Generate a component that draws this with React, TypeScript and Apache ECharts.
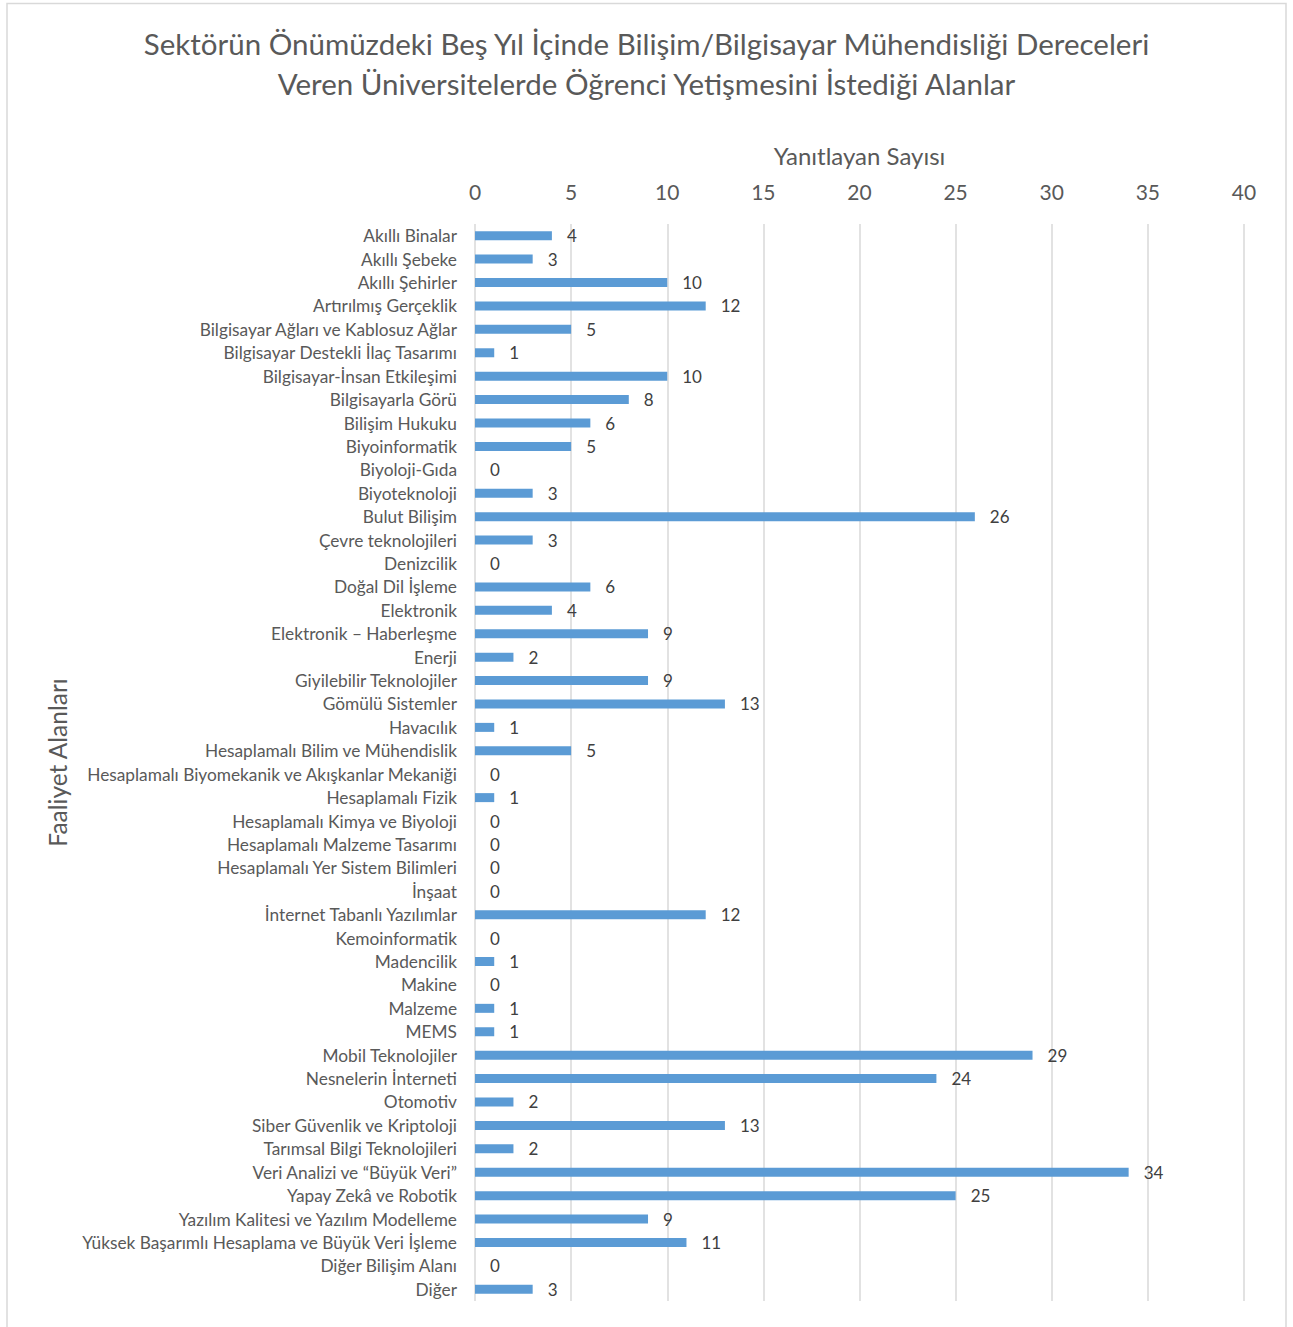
import React, { useEffect, useRef } from "react";
import * as echarts from "echarts";

const categories = [
  "Akıllı Binalar",
  "Akıllı Şebeke",
  "Akıllı Şehirler",
  "Artırılmış Gerçeklik",
  "Bilgisayar Ağları ve Kablosuz Ağlar",
  "Bilgisayar Destekli İlaç Tasarımı",
  "Bilgisayar-İnsan Etkileşimi",
  "Bilgisayarla Görü",
  "Bilişim Hukuku",
  "Biyoinformatik",
  "Biyoloji-Gıda",
  "Biyoteknoloji",
  "Bulut Bilişim",
  "Çevre teknolojileri",
  "Denizcilik",
  "Doğal Dil İşleme",
  "Elektronik",
  "Elektronik – Haberleşme",
  "Enerji",
  "Giyilebilir Teknolojiler",
  "Gömülü Sistemler",
  "Havacılık",
  "Hesaplamalı Bilim ve Mühendislik",
  "Hesaplamalı Biyomekanik ve Akışkanlar Mekaniği",
  "Hesaplamalı Fizik",
  "Hesaplamalı Kimya ve Biyoloji",
  "Hesaplamalı Malzeme Tasarımı",
  "Hesaplamalı Yer Sistem Bilimleri",
  "İnşaat",
  "İnternet Tabanlı Yazılımlar",
  "Kemoinformatik",
  "Madencilik",
  "Makine",
  "Malzeme",
  "MEMS",
  "Mobil Teknolojiler",
  "Nesnelerin İnterneti",
  "Otomotiv",
  "Siber Güvenlik ve Kriptoloji",
  "Tarımsal Bilgi Teknolojileri",
  "Veri Analizi ve “Büyük Veri”",
  "Yapay Zekâ ve Robotik",
  "Yazılım Kalitesi ve Yazılım Modelleme",
  "Yüksek Başarımlı Hesaplama ve Büyük Veri İşleme",
  "Diğer Bilişim Alanı",
  "Diğer",
];

const values = [
  4, 3, 10, 12, 5, 1, 10, 8, 6, 5, 0, 3, 26, 3, 0, 6, 4, 9, 2, 9, 13, 1, 5, 0, 1,
  0, 0, 0, 0, 12, 0, 1, 0, 1, 1, 29, 24, 2, 13, 2, 34, 25, 9, 11, 0, 3,
];

const titleLines = [
  "Sektörün Önümüzdeki Beş Yıl İçinde Bilişim/Bilgisayar Mühendisliği Dereceleri",
  "Veren Üniversitelerde Öğrenci Yetişmesini İstediği Alanlar",
];
const xAxisName = "Yanıtlayan Sayısı";
const yAxisName = "Faaliyet Alanları";
const xMin = 0;
const xMax = 40;
const xInterval = 5;

const FONT = "Lato, 'Open Sans', sans-serif";

export default function App() {
  const ref = useRef<HTMLDivElement>(null);
  useEffect(() => {
    if (!ref.current) return;
    const chart = echarts.init(ref.current, undefined, { renderer: "svg" });
    chart.setOption({
      animation: false,
      backgroundColor: "#ffffff",
      textStyle: { fontFamily: FONT },
      title: {
        text: titleLines.join("\n"),
        left: "center",
        top: 18,
        textStyle: {
          fontFamily: FONT,
          fontSize: 29.5,
          fontWeight: "normal",
          color: "#595959",
          lineHeight: 40,
        },
      },
      graphic: [
        {
          type: "rect",
          shape: { x: 7, y: 3.5, width: 1279, height: 1340 },
          style: { fill: "none", stroke: "#d9d9d9", lineWidth: 1.5 },
          silent: true,
        },
      ],
      grid: {
        left: 475,
        right: 49,
        top: 224,
        height: 1077,
        containLabel: false,
      },
      xAxis: {
        type: "value",
        position: "top",
        min: xMin,
        max: xMax,
        interval: xInterval,
        name: xAxisName,
        nameLocation: "middle",
        nameGap: 57,
        nameTextStyle: { fontSize: 24, color: "#595959", fontFamily: FONT },
        axisLine: { show: false },
        axisTick: { show: false },
        axisLabel: { fontSize: 21, color: "#595959", margin: 22, fontFamily: FONT },
        splitLine: { show: true, lineStyle: { color: "#d9d9d9", width: 1.5 } },
      },
      yAxis: {
        type: "category",
        inverse: true,
        data: categories,
        name: yAxisName,
        nameLocation: "middle",
        nameGap: 405,
        nameRotate: 90,
        nameTextStyle: { fontSize: 24.5, color: "#595959", fontFamily: FONT },
        axisLine: { show: false },
        axisTick: { show: false },
        axisLabel: { fontSize: 17.3, color: "#595959", margin: 18, fontFamily: FONT },
        splitLine: { show: false },
      },
      series: [
        {
          type: "bar",
          data: values,
          barWidth: 9,
          itemStyle: { color: "#5b9bd5" },
          label: {
            show: true,
            position: "right",
            distance: 15,
            fontSize: 17,
            color: "#404040",
            fontFamily: FONT,
          },
        },
      ],
    });
    return () => chart.dispose();
  }, []);
  return (
    <div
      ref={ref}
      style={{ position: "absolute", left: 0, top: 0, width: 1293, height: 1327 }}
    />
  );
}
